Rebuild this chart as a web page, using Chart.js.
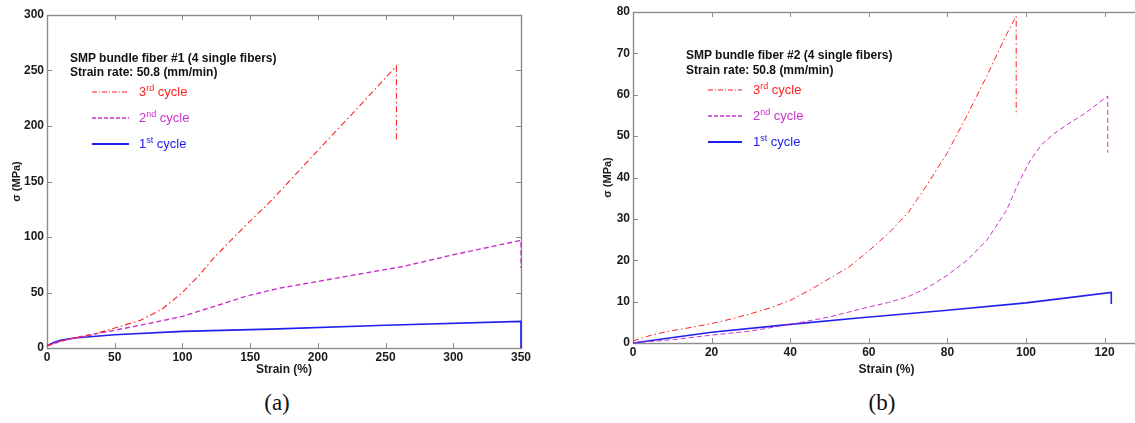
<!DOCTYPE html>
<html>
<head>
<meta charset="utf-8">
<script src="https://cdn.jsdelivr.net/npm/chart.js@4.4.1/dist/chart.umd.min.js"></script>
<style>
  html, body { margin: 0; padding: 0; background: #fff; }
  body { width: 1135px; height: 423px; position: relative; overflow: hidden; font-family: Arial, "Liberation Sans", sans-serif; }
  .plot { position: absolute; top: 0; height: 385px; }
  .plot canvas { display: block; }
  .note { position: absolute; font-weight: bold; font-size: 12px; line-height: 14px; color: #111; white-space: nowrap; }
  .key { position: absolute; height: 16px; font-size: 13px; line-height: 16px; white-space: nowrap; }
  .key svg { position: absolute; left: 0; top: 5px; }
  .key span { position: absolute; top: 0; }
  .key sup { font-size: 9px; line-height: 0; vertical-align: 5px; }
  .cap { position: absolute; top: 389px; width: 60px; margin-left: -30px; text-align: center; font-family: "Liberation Serif", "DejaVu Serif", serif; font-size: 23px; line-height: 28px; color: #111; }
</style>
</head>
<body>

<div class="plot" style="left:0; width:560px;"><canvas id="chartA" width="560" height="385"></canvas></div>
<div class="plot" style="left:580px; width:600px;"><canvas id="chartB" width="600" height="385"></canvas></div>

<!-- anotações (a) -->
<div class="note" style="left:70px; top:51px;">SMP bundle fiber #1 (4 single fibers)</div>
<div class="note" style="left:70px; top:65px;">Strain rate: 50.8 (mm/min)</div>
<div class="key" style="left:92px; top:84px; color:#ff2020;">
  <svg width="37" height="6"><line x1="0" y1="3" x2="37" y2="3" stroke="#ff2020" stroke-width="1.2" stroke-dasharray="5,2,1,2"/></svg>
  <span style="left:47px;">3<sup>rd</sup> cycle</span>
</div>
<div class="key" style="left:92px; top:110px; color:#cc30cc;">
  <svg width="37" height="6"><line x1="0" y1="3" x2="37" y2="3" stroke="#cc30cc" stroke-width="1.5" stroke-dasharray="4,2"/></svg>
  <span style="left:47px;">2<sup>nd</sup> cycle</span>
</div>
<div class="key" style="left:92px; top:136px; color:#2020ee;">
  <svg width="37" height="6"><line x1="0" y1="3" x2="37" y2="3" stroke="#2020ee" stroke-width="2"/></svg>
  <span style="left:47px;">1<sup>st</sup> cycle</span>
</div>
<div class="cap" style="left:277px;">(a)</div>

<!-- anotações (b) -->
<div class="note" style="left:686px; top:48px;">SMP bundle fiber #2 (4 single fibers)</div>
<div class="note" style="left:686px; top:63px;">Strain rate: 50.8 (mm/min)</div>
<div class="key" style="left:708px; top:82px; color:#ff2020;">
  <svg width="34" height="6"><line x1="0" y1="3" x2="34" y2="3" stroke="#ff2020" stroke-width="1.2" stroke-dasharray="5,2,1,2"/></svg>
  <span style="left:45px;">3<sup>rd</sup> cycle</span>
</div>
<div class="key" style="left:708px; top:108px; color:#cc30cc;">
  <svg width="34" height="6"><line x1="0" y1="3" x2="34" y2="3" stroke="#cc30cc" stroke-width="1.5" stroke-dasharray="4,2"/></svg>
  <span style="left:45px;">2<sup>nd</sup> cycle</span>
</div>
<div class="key" style="left:708px; top:134px; color:#2020ee;">
  <svg width="34" height="6"><line x1="0" y1="3" x2="34" y2="3" stroke="#2020ee" stroke-width="2"/></svg>
  <span style="left:45px;">1<sup>st</sup> cycle</span>
</div>
<div class="cap" style="left:882px;">(b)</div>

<script>
// ===================== DADOS =====================
// Fibra #1 - deformação (%) e tensão (MPa)
const strainA3 = [0, 10, 20, 32, 50, 69, 85, 100, 112, 123, 135, 148, 165, 200, 230, 258, 258];
const stressA3 = [2, 6, 9, 11.5, 18, 25, 35, 50, 65, 81, 96, 112, 132, 178, 217, 254, 186];
const strainA2 = [0, 10, 20, 30, 50, 75, 100, 125, 148, 172, 214, 263, 300, 350, 350];
const stressA2 = [2, 6, 9, 11.5, 16, 22, 28.5, 38, 47, 54, 63, 73.5, 84, 97, 72];
const strainA1 = [0, 5, 10, 20, 50, 100, 165, 250, 350, 350];
const stressA1 = [2, 5, 7, 9, 12, 15, 17, 20.5, 24, 0];

// Fibra #2
const strainB3 = [0, 5, 10, 15, 20, 25, 30, 35, 40, 45, 50, 55, 60, 65, 70, 75, 80, 85, 90, 95, 97.5, 97.5];
const stressB3 = [0.5, 2, 3, 3.8, 4.7, 5.8, 7.1, 8.5, 10.3, 12.8, 15.6, 18.4, 22.3, 26.5, 31.5, 38.5, 46, 55, 64.5, 74.5, 79, 55];
const strainB2 = [0, 10, 20, 30, 40, 50, 60, 65, 70, 75, 80, 85, 90, 95, 98, 101, 104, 107, 110, 115, 120.8, 120.8];
const stressB2 = [0, 0.8, 1.9, 2.9, 4.5, 6.3, 8.7, 9.8, 11.2, 13.4, 16.4, 20, 24.8, 32, 38.5, 44, 48, 50.5, 52.5, 55.5, 59.7, 46];
const strainB1 = [0, 20, 40, 58, 80, 100, 121.7, 121.7];
const stressB1 = [0, 2.6, 4.5, 6.1, 7.9, 9.7, 12.2, 9.4];

// Limites dos eixos
const eixoA = { xMax: 350, xStep: 50, yMax: 300, yStep: 50 };
const eixoB = { xMax: 129, xStep: 20, yMax: 80, yStep: 10 };

// ===================== CORES =====================
const corCiclo3 = '#ff2020';
const corCiclo2 = '#cc30cc';
const corCiclo1 = '#2020ee';
const corMoldura = '#8c8c8c';

Chart.defaults.font.family = 'Arial, "Liberation Sans", sans-serif';
Chart.defaults.color = '#1a1a1a';

// ===================== UTILITÁRIOS =====================
function juntar(xs, ys) {
    return xs.map((x, i) => ({ x, y: ys[i] }));
}

// moldura em volta da área do gráfico com marcas de escala para dentro
const molduraPlugin = {
    id: 'moldura',
    beforeDatasetsDraw(chart) {
        const { ctx, chartArea: a, scales: { x, y } } = chart;
        const tam = 5;
        ctx.save();
        ctx.strokeStyle = corMoldura;
        ctx.lineWidth = 1;
        ctx.beginPath();
        x.ticks.forEach(t => {
            const px = Math.round(x.getPixelForValue(t.value)) + 0.5;
            ctx.moveTo(px, a.bottom); ctx.lineTo(px, a.bottom - tam);
            ctx.moveTo(px, a.top); ctx.lineTo(px, a.top + tam);
        });
        y.ticks.forEach(t => {
            const py = Math.round(y.getPixelForValue(t.value)) + 0.5;
            ctx.moveTo(a.left, py); ctx.lineTo(a.left + tam, py);
            ctx.moveTo(a.right, py); ctx.lineTo(a.right - tam, py);
        });
        ctx.stroke();
        ctx.lineWidth = 1.4;
        ctx.strokeRect(Math.round(a.left) + 0.5, Math.round(a.top) + 0.5,
            Math.round(a.right - a.left), Math.round(a.bottom - a.top));
        ctx.restore();
    }
};

function serie(dados, cor, largura, tracejado) {
    return {
        data: dados,
        borderColor: cor,
        borderWidth: largura,
        borderDash: tracejado,
        pointRadius: 0,
        showLine: true,
        tension: 0,
        fill: false,
        clip: 4
    };
}

// ===================== GRÁFICOS =====================
function criarGrafico(canvasId, eixo, series, cfg) {
    const ctx = document.getElementById(canvasId).getContext('2d');
    return new Chart(ctx, {
        type: 'scatter',
        data: { datasets: series },
        options: {
            responsive: false,
            animation: false,
            layout: { padding: { top: cfg.top, right: cfg.right, bottom: 0, left: 0 } },
            plugins: { legend: { display: false }, tooltip: { enabled: false } },
            scales: {
                x: {
                    type: 'linear',
                    min: 0, max: eixo.xMax,
                    grid: { display: false, drawTicks: false },
                    border: { display: false },
                    ticks: { stepSize: eixo.xStep, includeBounds: false, padding: 2, maxRotation: 0,
                        font: { size: 12, weight: 700 } },
                    title: { display: true, text: 'Strain (%)', font: { size: 12, weight: 700 },
                        padding: { top: 0, bottom: 8 } },
                    afterFit: s => { s.height = cfg.xAltura; }
                },
                y: {
                    type: 'linear',
                    min: 0, max: eixo.yMax,
                    grid: { display: false, drawTicks: false },
                    border: { display: false },
                    ticks: { stepSize: eixo.yStep, padding: 3, font: { size: 12, weight: 700 } },
                    title: { display: true, text: 'σ (MPa)', font: { size: 11, weight: 700 },
                        padding: { top: cfg.tituloY, bottom: 0 } },
                    afterFit: s => { s.width = cfg.yLargura; }
                }
            }
        },
        plugins: [molduraPlugin]
    });
}

criarGrafico('chartA', eixoA, [
    serie(juntar(strainA3, stressA3), corCiclo3, 1.1, [6, 3, 1.5, 3]),
    serie(juntar(strainA2, stressA2), corCiclo2, 1.4, [5, 3]),
    serie(juntar(strainA1, stressA1), corCiclo1, 1.6, [])
], { top: 15, right: 39, xAltura: 37, yLargura: 47, tituloY: 10 });

criarGrafico('chartB', eixoB, [
    serie(juntar(strainB3, stressB3), corCiclo3, 1, [6, 3, 1.5, 3]),
    serie(juntar(strainB2, stressB2), corCiclo2, 1, [5, 3]),
    serie(juntar(strainB1, stressB1), corCiclo1, 1.6, [])
], { top: 12, right: 40, xAltura: 42, yLargura: 53, tituloY: 21 });
</script>
</body>
</html>
